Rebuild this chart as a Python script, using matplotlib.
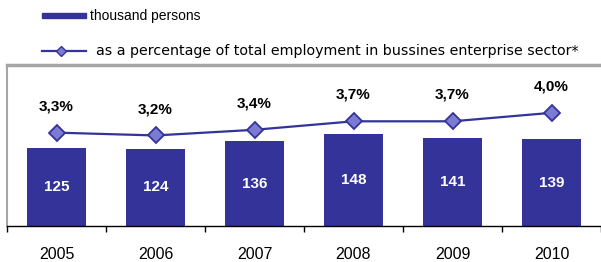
import matplotlib.pyplot as plt
from matplotlib.lines import Line2D
from matplotlib.patches import Rectangle

# data
years = ['2005', '2006', '2007', '2008', '2009', '2010']
persons = [125, 124, 136, 148, 141, 139]          # thousand persons
share = [3.3, 3.2, 3.4, 3.7, 3.7, 4.0]            # % of employment
share_labels = ['3,3%', '3,2%', '3,4%', '3,7%', '3,7%', '4,0%']

bar_col = '#333399'
mk_col = '#7b7bd4'
plt.rcParams['font.family'] = ['Liberation Sans', 'DejaVu Sans']

W, H = 601, 262
fig = plt.figure(figsize=(W / 100, H / 100), dpi=100)
ax = fig.add_axes([7 / W, (H - 226) / H, 594 / W, 161 / H])

x = range(len(years))
ax.bar(x, persons, width=0.6, color=bar_col, zorder=2)
for i, v in enumerate(persons):
    ax.text(i, v / 2, str(v), color='white', fontsize=11, fontweight='bold',
            ha='center', va='center', zorder=3)

ax.set_xlim(-0.5, 5.5)
ax.set_ylim(0, 258)
ax.set_yticks([])
ax.set_xticks([i - 0.5 for i in range(len(years) + 1)])
ax.set_xticklabels([])
ax.set_xticks(list(x), minor=True)
ax.set_xticklabels(years, minor=True, fontsize=11.5)
ax.tick_params(axis='x', which='major', direction='out', length=4, width=1, color='black')
ax.tick_params(axis='x', which='minor', length=0, pad=15)

for s in ['top', 'left', 'right']:
    ax.spines[s].set_color('#a6a6a6')
ax.spines['top'].set_linewidth(2.5)
ax.spines['left'].set_linewidth(1.5)
ax.spines['right'].set_visible(False)
ax.spines['bottom'].set_color('black')
ax.spines['bottom'].set_linewidth(1)

ax2 = ax.twinx()
ax2.plot(list(x), share, color=bar_col, lw=1.6, marker='D', markersize=8,
         markerfacecolor=mk_col, markeredgecolor=bar_col, markeredgewidth=1.3, zorder=4)
ax2.set_ylim(0, 5.69)
ax2.set_yticks([])
for s in ax2.spines.values():
    s.set_visible(False)
for i, (v, lab) in enumerate(zip(share, share_labels)):
    ax2.annotate(lab, (i, v), xytext=(0, 14), textcoords='offset points',
                 ha='center', va='bottom', fontsize=11, fontweight='bold')

# legend drawn by hand in pixel positions
def fx(px):
    return px / W

def fy(py):
    return 1 - py / H

fig.add_artist(Rectangle((fx(42), fy(18)), fx(44), 5 / H, color=bar_col,
                         transform=fig.transFigure))
fig.text(fx(90), fy(16), 'thousand persons', fontsize=10, va='center')
fig.add_artist(Line2D([fx(42), fx(86)], [fy(51), fy(51)], color=bar_col, lw=1.6,
                      transform=fig.transFigure))
fig.add_artist(Line2D([fx(61)], [fy(51)], marker='D', markersize=5,
                      markerfacecolor=mk_col, markeredgecolor=bar_col,
                      transform=fig.transFigure))
fig.text(fx(96), fy(51), 'as a percentage of total employment in bussines enterprise sector*',
         fontsize=10.3, va='center', family=['DejaVu Sans'])

fig.savefig('out.png', dpi=100)
